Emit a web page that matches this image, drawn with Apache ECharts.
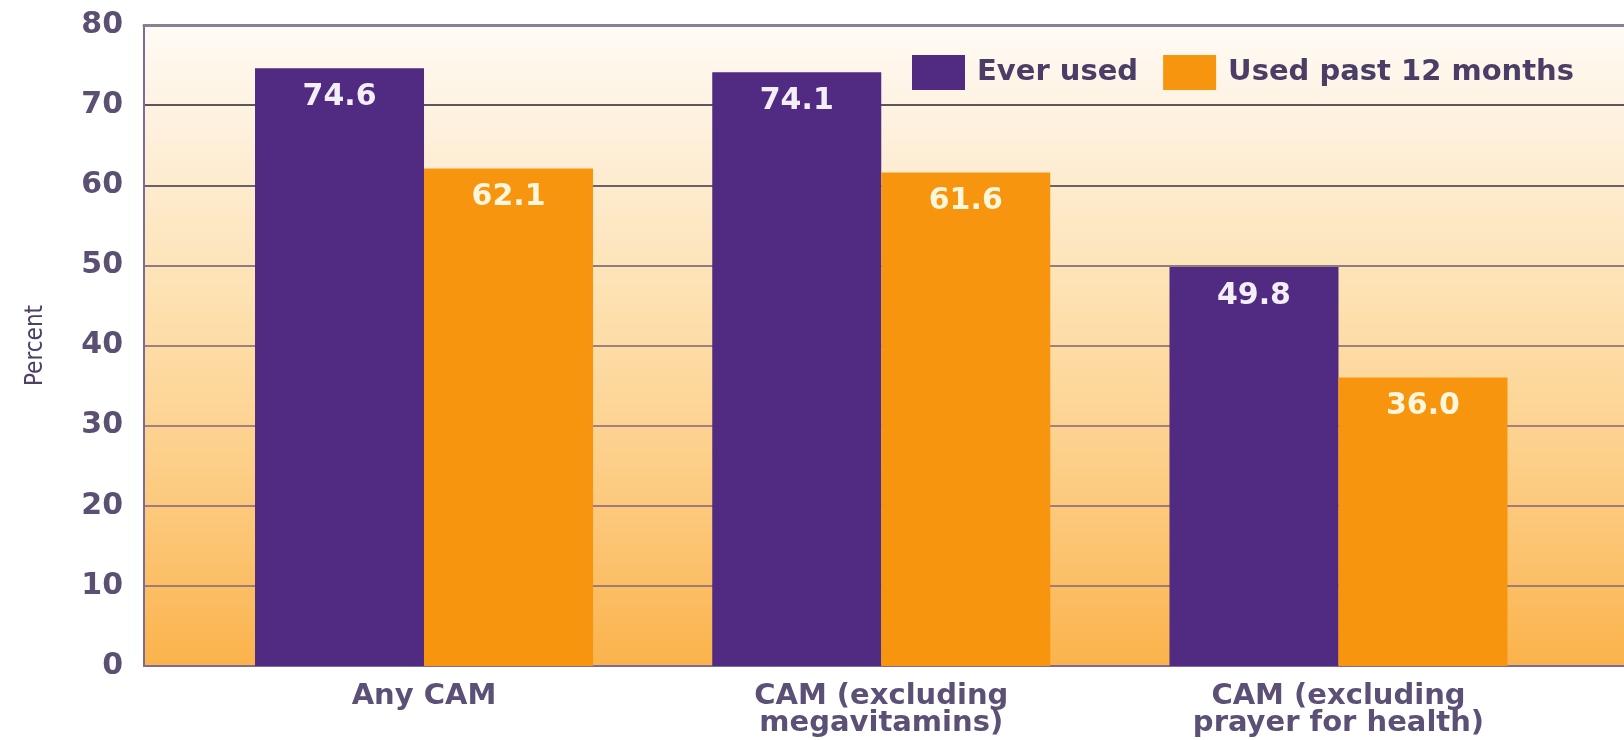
<!DOCTYPE html>
<html>
<head>
<meta charset="utf-8">
<script src="https://cdn.jsdelivr.net/npm/echarts@6/dist/echarts.min.js"></script>
<style>
html,body{margin:0;padding:0;background:#ffffff;}
#chart{width:1624px;height:740px;}
</style>
</head>
<body>
<div id="chart"></div>
<script>
const categories = ['Any CAM', 'CAM (excluding\nmegavitamins)', 'CAM (excluding\nprayer for health)'];
const everUsed = [74.6, 74.1, 49.8];
const usedPast12 = [62.1, 61.6, 36.0];
const seriesNames = ['Ever used', 'Used past 12 months'];
const yAxisName = 'Percent';

const chart = echarts.init(document.getElementById('chart'), null, {renderer: 'canvas'});

const gridTop = 25, gridBottom = 74;
const bg = {
  type: 'linear', x: 0, y: 0, x2: 0, y2: 1,
  colorStops: [
    {offset: 0, color: '#fffbf5'},
    {offset: 0.15, color: '#fef1df'},
    {offset: 0.4, color: '#fde3b5'},
    {offset: 0.6, color: '#fdd596'},
    {offset: 0.8, color: '#fcc574'},
    {offset: 1, color: '#fbb34b'}
  ]
};

const option = {
  backgroundColor: '#ffffff',
  animation: false,
  grid: [
    {left: 144, right: 0, top: gridTop, bottom: gridBottom, show: true, backgroundColor: bg, borderWidth: 0},
    {left: 195.4, right: 56.9, top: gridTop, bottom: gridBottom}
  ],
  legend: {
    data: seriesNames,
    left: 907, top: 50,
    itemWidth: 53, itemHeight: 35, itemGap: 25,
    icon: 'rect',
    textStyle: {fontFamily: 'DejaVu Sans', fontWeight: 'bold', fontSize: 29, color: '#4a3d66', padding: [0, 0, 0, 7]}
  },
  xAxis: [
    {gridIndex: 0, type: 'value', min: 0, max: 1, position: 'bottom',
     axisLine: {show: true, onZero: false, lineStyle: {color: '#7f6b98', width: 2}},
     axisTick: {show: false}, axisLabel: {show: false}, splitLine: {show: false}},
    {gridIndex: 0, type: 'value', min: 0, max: 1, position: 'top',
     axisLine: {show: true, onZero: false, lineStyle: {color: '#8a8094', width: 3}},
     axisTick: {show: false}, axisLabel: {show: false}, splitLine: {show: false}},
    {gridIndex: 1, type: 'category', data: categories,
     axisLine: {show: false}, axisTick: {show: false}, splitLine: {show: false},
     axisLabel: {fontFamily: 'DejaVu Sans', fontWeight: 'bold', fontSize: 29, lineHeight: 27, color: '#5c5076', margin: 17}}
  ],
  yAxis: [
    {gridIndex: 0, type: 'value', min: 0, max: 80, interval: 10,
     axisLine: {show: true, onZero: false, lineStyle: {color: '#7d6a95', width: 2}},
     axisTick: {show: false},
     axisLabel: {fontFamily: 'DejaVu Sans', fontWeight: 'bold', fontSize: 30, color: '#5b4f72', margin: 21},
     splitLine: {show: true, lineStyle: {width: 2, color: ['#9a7a6c', '#a07a74', '#a27a7c', '#a68080', '#9e8080', '#8e7c80', '#6e6068', '#5e565e', '#8a8094']}},
     name: yAxisName, nameLocation: 'middle', nameRotate: 90, nameGap: 96,
     nameTextStyle: {fontFamily: 'DejaVu Sans Condensed, Liberation Sans, sans-serif', fontSize: 24, color: '#4d4068'}},
    {gridIndex: 1, type: 'value', min: 0, max: 80, interval: 10, show: false}
  ],
  series: [
    {name: seriesNames[0], type: 'bar', xAxisIndex: 2, yAxisIndex: 1, data: everUsed,
     barWidth: 169, barGap: '0%',
     itemStyle: {color: '#512a82'},
     label: {show: true, position: 'insideTop', distance: 14, formatter: p => p.value.toFixed(1),
             fontFamily: 'DejaVu Sans', fontWeight: 'bold', fontSize: 30, color: '#f4eef8'}},
    {name: seriesNames[1], type: 'bar', xAxisIndex: 2, yAxisIndex: 1, data: usedPast12,
     barWidth: 169, barGap: '0%',
     itemStyle: {color: '#f7950f'},
     label: {show: true, position: 'insideTop', distance: 14, formatter: p => p.value.toFixed(1),
             fontFamily: 'DejaVu Sans', fontWeight: 'bold', fontSize: 30, color: '#fff6dc'}}
  ]
};
chart.setOption(option);
</script>
</body>
</html>
